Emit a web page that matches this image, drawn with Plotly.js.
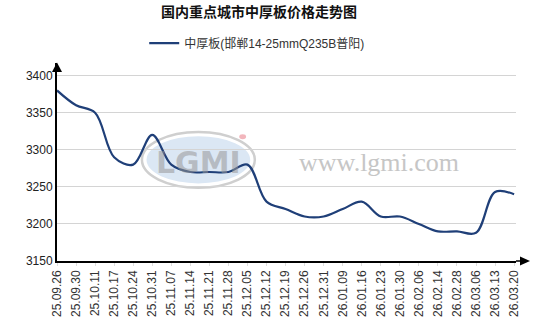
<!DOCTYPE html>
<html>
<head>
<meta charset="utf-8">
<script src="https://cdn.plot.ly/plotly-3.0.1.min.js"></script>
<style>html,body{margin:0;padding:0;background:#fff;}#chart{width:539px;height:326px;}</style>
</head>
<body>
<div id="chart"></div>
<script>
const chartTitle = '国内重点城市中厚板价格走势图';
const seriesName = '中厚板(邯郸14-25mmQ235B普阳)';
const dates = ['25.09.26','25.09.30','25.10.11','25.10.17','25.10.24','25.10.31','25.11.07','25.11.14','25.11.21','25.11.28','25.12.05','25.12.12','25.12.19','25.12.26','25.12.31','26.01.09','26.01.16','26.01.23','26.01.30','26.02.06','26.02.14','26.02.28','26.03.06','26.03.13','26.03.20'];
const prices = [3380,3360,3350,3290,3280,3320,3280,3270,3270,3270,3280,3230,3220,3210,3210,3220,3230,3210,3210,3200,3190,3190,3188,3243,3240];
const yTicks = [3150,3200,3250,3300,3350,3400];

const idx = dates.map((d,i)=>i);
const trace = {
  x: idx, y: prices, type: 'scatter', mode: 'lines', name: seriesName,
  line: {color: '#1f3f78', width: 2.2, shape: 'spline', smoothing: 1},
  hoverinfo: 'skip'
};

const font = 'Liberation Sans, Arial, Noto Sans CJK SC, sans-serif';
const layout = {
  width: 539, height: 326,
  margin: {l: 57, r: 23, t: 63, b: 64.5},
  paper_bgcolor: '#fff', plot_bgcolor: '#fff',
  font: {family: font, size: 12, color: '#333'},
  title: {text: chartTitle, font: {family: 'Noto Sans CJK SC, sans-serif', size: 14, color: '#111', weight: 'bold'},
          xref: 'container', x: 0.4805, xanchor: 'center', yref: 'container', y: 0.963, yanchor: 'middle'},
  showlegend: true,
  legend: {orientation: 'h', x: 0.19, xanchor: 'left', y: 1.1, yanchor: 'middle', yref: 'paper',
           font: {family: font, size: 12, color: '#333'}, bgcolor: 'rgba(0,0,0,0)'},
  xaxis: {
    range: [0, 24.1], tickmode: 'array', tickvals: idx, ticktext: dates, tickangle: -90,
    showgrid: false, zeroline: false, showline: true, linecolor: '#000', linewidth: 1.5,
    ticks: 'outside', ticklen: 3, tickcolor: '#ddd',
    tickfont: {family: font, size: 12, color: '#333'}, fixedrange: true
  },
  yaxis: {
    range: [3150, 3417], tickmode: 'array', tickvals: yTicks, ticktext: yTicks.map(String),
    showgrid: true, gridcolor: '#d4d4d4', gridwidth: 1, zeroline: false,
    showline: true, linecolor: '#000', linewidth: 2, ticks: '',
    tickfont: {family: font, size: 12, color: '#222'}, fixedrange: true
  },
  shapes: [
    {type: 'circle', xref: 'paper', yref: 'paper', layer: 'between', x0: 0.185, x1: 0.431, y0: 0.370, y1: 0.652,
     line: {color: '#cfcfcf', width: 2.5}, fillcolor: 'rgba(255,255,255,0)'},
    {type: 'circle', xref: 'paper', yref: 'paper', layer: 'between', x0: 0.195, x1: 0.421, y0: 0.392, y1: 0.630,
     line: {width: 0}, fillcolor: '#dbe7f4'},
    {type: 'circle', xref: 'paper', yref: 'paper', layer: 'between', x0: 0.397, x1: 0.412, y0: 0.615, y1: 0.640,
     line: {width: 0}, fillcolor: '#f2b6bc'},
    {type: 'path', xref: 'paper', yref: 'paper', path: 'M 0,1.0025 L -0.0109,0.9547 L 0.0109,0.9547 Z',
     fillcolor: '#000', line: {width: 0}},
    {type: 'line', xref: 'paper', yref: 'paper', x0: 1, x1: 1.01, y0: 0, y1: 0, line: {color: '#000', width: 1.5}},
    {type: 'path', xref: 'paper', yref: 'paper', path: 'M 1.0305,0 L 1.0087,0.0227 L 1.0087,-0.0227 Z',
     fillcolor: '#000', line: {width: 0}}
  ],
  annotations: [
    {text: 'LGMI', xref: 'paper', yref: 'paper', x: 0.308, y: 0.50, xanchor: 'center', yanchor: 'middle', showarrow: false,
     font: {family: 'DejaVu Sans, sans-serif', size: 30, color: 'rgba(150,150,150,0.55)', weight: 'bold'}},
    {text: 'www.lgmi.com', xref: 'paper', yref: 'paper', x: 0.7015, y: 0.496, xanchor: 'center', yanchor: 'middle', showarrow: false,
     font: {family: 'Liberation Serif, serif', size: 26, color: '#c6c6c6'}}
  ]
};

Plotly.newPlot('chart', [trace], layout, {displayModeBar: false, staticPlot: true});
</script>
</body>
</html>
